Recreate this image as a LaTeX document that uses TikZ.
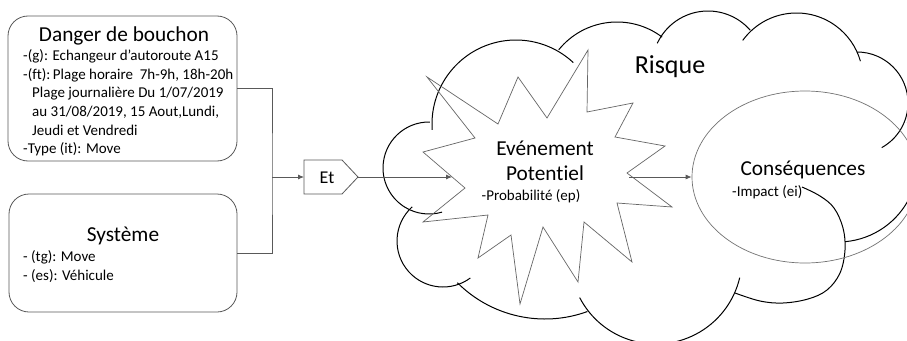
\documentclass[tikz,border=0pt]{standalone}
\usepackage{fontspec}
\setmainfont{Carlito}[Ligatures={NoCommon}]
\usetikzlibrary{arrows.meta,shapes.geometric}
\begin{document}
\begin{tikzpicture}[x=1pt,y=-1pt,
  box/.style={draw=black!65, line width=0.8pt, rounded corners=20pt, inner sep=0},
  conn/.style={draw=black!65, line width=0.8pt},
  arr/.style={conn, -{Latex[length=6pt,width=5pt]}},
  lobe/.style={draw=black, line width=1pt},
  starline/.style={draw=black!60, line width=0.7pt},
  big/.style={font=\fontsize{21.3}{25}\selectfont, inner sep=0},
  huge/.style={font=\fontsize{26}{30}\selectfont, inner sep=0},
  mid/.style={font=\fontsize{18}{21}\selectfont, inner sep=0},
  small/.style={font=\fontsize{15}{18}\selectfont, inner sep=0}]
\clip (0,0) rectangle (907,340);
\fill[white] (0,0) rectangle (907,340);

% left boxes
\node[box, minimum width=229pt, minimum height=145pt] (b1) at (122.5,88.5) {};
\node[big, anchor=base] (t1) at (124,41.5) {Danger de bouchon};
\node[small, anchor=base west] (g1) at (23,60.7) {-(g): Echangeur d’autoroute A15};
\node[small, anchor=base west] (g2) at (23,79.3) {-(ft):\,Plage horaire\ \ 7h-9h, 18h-20h};
\node[small, anchor=base west] (g3) at (32,97.9) {Plage journalière Du 1/07/2019};
\node[small, anchor=base west] (g4) at (32,116.5) {au 31/08/2019, 15 Aout,Lundi,};
\node[small, anchor=base west] (g5) at (32,135.1) {Jeudi et Vendredi};
\node[small, anchor=base west] (g6) at (23,153.7) {-Type (it): Move};

\node[box, minimum width=228pt, minimum height=118pt] (b2) at (123,253) {};
\node[big, anchor=base] (t2) at (123,241.7) {Système};
\node[small, anchor=base west] (s1) at (23,261.7) {- (tg): Move};
\node[small, anchor=base west] (s2) at (23,280) {- (es): Véhicule};

% junction and Et
\coordinate (j1) at (272,177);
\coordinate (etin) at (304,177);
\coordinate (etout) at (358,177);
\draw[conn] (304,160) -- (342,160) -- (etout) -- (342,194) -- (304,194) -- cycle;
\node[mid] (et) at (327,177.5) {Et};
\draw[conn] (b1.east) -| (j1) |- (b2.east);
\draw[arr] (j1) -- (etin);

% cloud lobes
\draw[lobe] (516,124) ++(176:84) arc[start angle=176, end angle=313, radius=84];
\draw[lobe] (617,97) ++(219:75) arc[start angle=219, end angle=307, radius=75];
\draw[lobe] (708,67) ++(205:56) arc[start angle=205, end angle=319, radius=56];
\draw[lobe] (796.5,79.5) ++(216:66.5) arc[start angle=216, end angle=344, radius=66.5];
\draw[lobe] (857,103) ++(270:51) arc[start angle=270, end angle=421, radius=51];
\draw[lobe] (838,162) ++(85:80) arc[start angle=85, end angle=-30, radius=80];
\draw[lobe] plot[smooth, tension=0.6] coordinates {(735,293) (760,301) (783,303) (808,299) (827,290) (840,273) (845,250) (843,228) (834,208) (820,196) (802,187)};
\draw[lobe] (656,258) ++(152.6:86) arc[start angle=152.6, end angle=13.2, radius=86];
\draw[lobe] (545,195) ++(135:124) arc[start angle=135, end angle=70, radius=124];
\draw[lobe] (443,241) ++(228:46) arc[start angle=228, end angle=53.5, radius=46];
\draw[lobe] (429,168) ++(271:46) arc[start angle=271, end angle=73.5, radius=46];

% star
\draw[starline] (427,77) -- (498,124) -- (518,77) -- (547,118) -- (588,50) -- (587,112)
  -- (633,103) -- (615,137) -- (665,146) -- (627,173) -- (672,207) -- (617,203)
  -- (632,262) -- (584,222) -- (578,282) -- (543,227) -- (520,304) -- (511,235)
  -- (478,258) -- (488,215) -- (423,222) -- (465,188) -- (423,152) -- (475,138) -- cycle;
\coordinate (starL) at (452,177);
\coordinate (starR) at (629,177);
\node[big, anchor=base] (ev1) at (545,155) {Evénement};
\node[big, anchor=base] (ev2) at (545,180) {Potentiel};
\node[small, anchor=base] (ev3) at (531,200) {-Probabilité (ep)};

% ellipse
\node[draw=black!55, line width=0.7pt, ellipse, minimum width=226pt, minimum height=172pt, inner sep=0] (ell) at (805,177) {};
\node[big, anchor=base] (cq) at (803,175) {Conséquences};
\node[small, anchor=base west] (imp) at (732,196) {-Impact (ei)};

\node[huge, anchor=base] (risk) at (670,73.3) {Risque};

\draw[arr] (etout) -- (starL);
\draw[arr] (starR) -- (ell.west);
\end{tikzpicture}
\end{document}
